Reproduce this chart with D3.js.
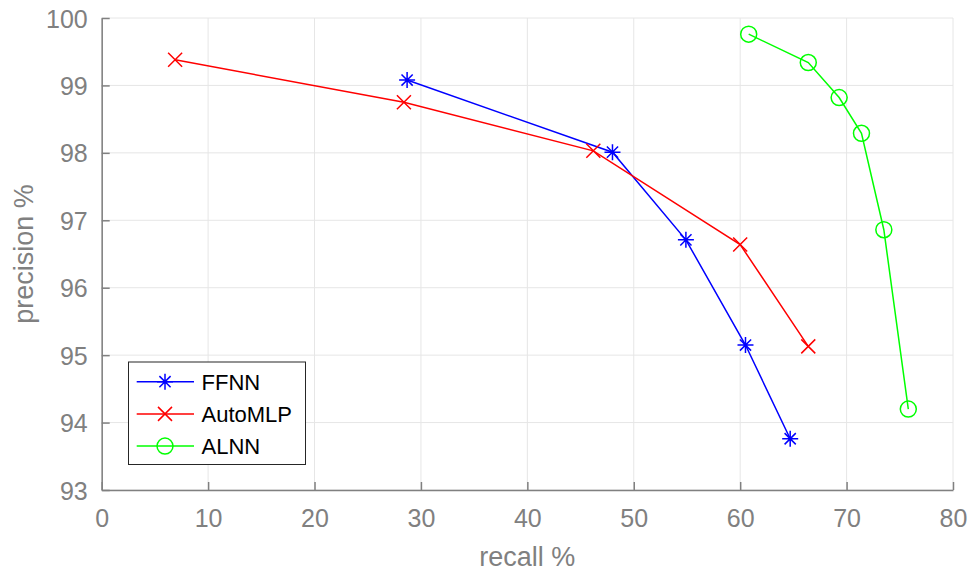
<!DOCTYPE html>
<html><head><meta charset="utf-8">
<script src="https://cdn.jsdelivr.net/npm/d3@7"></script>
<style>html,body{margin:0;padding:0;background:#fff;}svg{display:block;font-family:Arial,"Liberation Sans",sans-serif;}</style>
</head><body>
<svg id="c" width="970" height="574"></svg>
<script>
const seriesNames = ["FFNN", "AutoMLP", "ALNN"];
const seriesColors = ["#0000ff", "#ff0000", "#00ff00"];
const seriesMarkers = ["star", "cross", "circle"];
const ffnnRecall = [28.7, 48.0, 54.9, 60.5, 64.7];
const ffnnPrecision = [99.08, 98.01, 96.71, 95.15, 93.76];
const automlpRecall = [6.9, 28.4, 46.2, 60.0, 66.4];
const automlpPrecision = [99.38, 98.75, 98.03, 96.64, 95.13];
const alnnRecall = [60.8, 66.4, 69.3, 71.4, 73.5, 75.8];
const alnnPrecision = [99.76, 99.34, 98.82, 98.29, 96.86, 94.20];
const xTicks = [0, 10, 20, 30, 40, 50, 60, 70, 80];
const yTicks = [93, 94, 95, 96, 97, 98, 99, 100];

const series = [
  {name: seriesNames[0], color: seriesColors[0], marker: seriesMarkers[0], pts: ffnnRecall.map((r,i)=>[r, ffnnPrecision[i]])},
  {name: seriesNames[1], color: seriesColors[1], marker: seriesMarkers[1], pts: automlpRecall.map((r,i)=>[r, automlpPrecision[i]])},
  {name: seriesNames[2], color: seriesColors[2], marker: seriesMarkers[2], pts: alnnRecall.map((r,i)=>[r, alnnPrecision[i]])}
];

const svg = d3.select("#c");
const L = 101.7, R = 953, T = 18, B = 490;
const x = d3.scaleLinear().domain([0, 80]).range([L, R]);
const y = d3.scaleLinear().domain([93, 100]).range([B, T]);
const axisColor = "#808080", textColor = "#808080", gridColor = "#e6e6e6";

// grid
const g = svg.append("g");
g.selectAll(".gx").data(xTicks).enter().append("line")
  .attr("x1", d=>x(d)).attr("x2", d=>x(d)).attr("y1", T).attr("y2", B)
  .attr("stroke", gridColor).attr("stroke-width", 1);
g.selectAll(".gy").data(yTicks).enter().append("line")
  .attr("y1", d=>y(d)).attr("y2", d=>y(d)).attr("x1", L).attr("x2", R)
  .attr("stroke", gridColor).attr("stroke-width", 1);

// axes
const fmt = d3.format("d");
const xAxis = d3.axisBottom(x).tickValues(xTicks).tickFormat(fmt).tickSize(-8).tickPadding(14).tickSizeOuter(0);
const yAxis = d3.axisLeft(y).tickValues(yTicks).tickFormat(fmt).tickSize(-8).tickPadding(14).tickSizeOuter(0);
const gx = svg.append("g").attr("transform", `translate(0,${B})`).call(xAxis);
const gy = svg.append("g").attr("transform", `translate(${L},0)`).call(yAxis);
[gx, gy].forEach(a => {
  a.select(".domain").attr("stroke", axisColor).attr("stroke-width", 1.5);
  a.selectAll(".tick line").attr("stroke", axisColor).attr("stroke-width", 1.5);
  a.selectAll(".tick text").attr("fill", textColor).style("font-size", "25px").style("font-family", "Arial, 'Liberation Sans', sans-serif");
});
gx.selectAll(".tick text").attr("dy", "0.9em");
gy.selectAll(".tick text").attr("dy", "0.36em");

svg.append("text").attr("x", (L+R)/2).attr("y", 566).attr("text-anchor", "middle")
  .attr("fill", textColor).style("font-size", "27px").text("recall %");
svg.append("text").attr("transform", `translate(33,${(T+B)/2}) rotate(-90)`).attr("text-anchor", "middle")
  .attr("fill", textColor).style("font-size", "27px").text("precision %");

function drawMarker(sel, type, color) {
  if (type === "star") {
    const s = 8;
    sel.append("path").attr("d", `M${-s},0H${s}M0,${-s}V${s}M${-s*0.7},${-s*0.7}L${s*0.7},${s*0.7}M${-s*0.7},${s*0.7}L${s*0.7},${-s*0.7}`)
      .attr("stroke", color).attr("stroke-width", 1.5).attr("fill", "none");
  } else if (type === "cross") {
    const s = 7;
    sel.append("path").attr("d", `M${-s},${-s}L${s},${s}M${-s},${s}L${s},${-s}`)
      .attr("stroke", color).attr("stroke-width", 1.5).attr("fill", "none");
  } else {
    sel.append("circle").attr("r", 8).attr("stroke", color).attr("stroke-width", 1.5).attr("fill", "none");
  }
}

const line = d3.line().x(d=>x(d[0])).y(d=>y(d[1]));
series.forEach(s => {
  svg.append("path").datum(s.pts).attr("d", line).attr("fill", "none")
    .attr("stroke", s.color).attr("stroke-width", 1.5);
  s.pts.forEach(p => {
    const m = svg.append("g").attr("transform", `translate(${x(p[0])},${y(p[1])})`);
    drawMarker(m, s.marker, s.color);
  });
});

// legend
const lg = svg.append("g");
lg.append("rect").attr("x", 128.5).attr("y", 362).attr("width", 177).attr("height", 102.5)
  .attr("fill", "#fff").attr("stroke", "#262626").attr("stroke-width", 1);
series.forEach((s, i) => {
  const cy = 381.7 + i * 32.2;
  lg.append("line").attr("x1", 136.7).attr("x2", 194).attr("y1", cy).attr("y2", cy)
    .attr("stroke", s.color).attr("stroke-width", 1.5);
  const m = lg.append("g").attr("transform", `translate(165,${cy})`);
  drawMarker(m, s.marker, s.color);
  lg.append("text").attr("x", 201.5).attr("y", cy).attr("dy", "0.36em")
    .attr("fill", "#000").style("font-size", "22px").text(s.name);
});
</script>
</body></html>
